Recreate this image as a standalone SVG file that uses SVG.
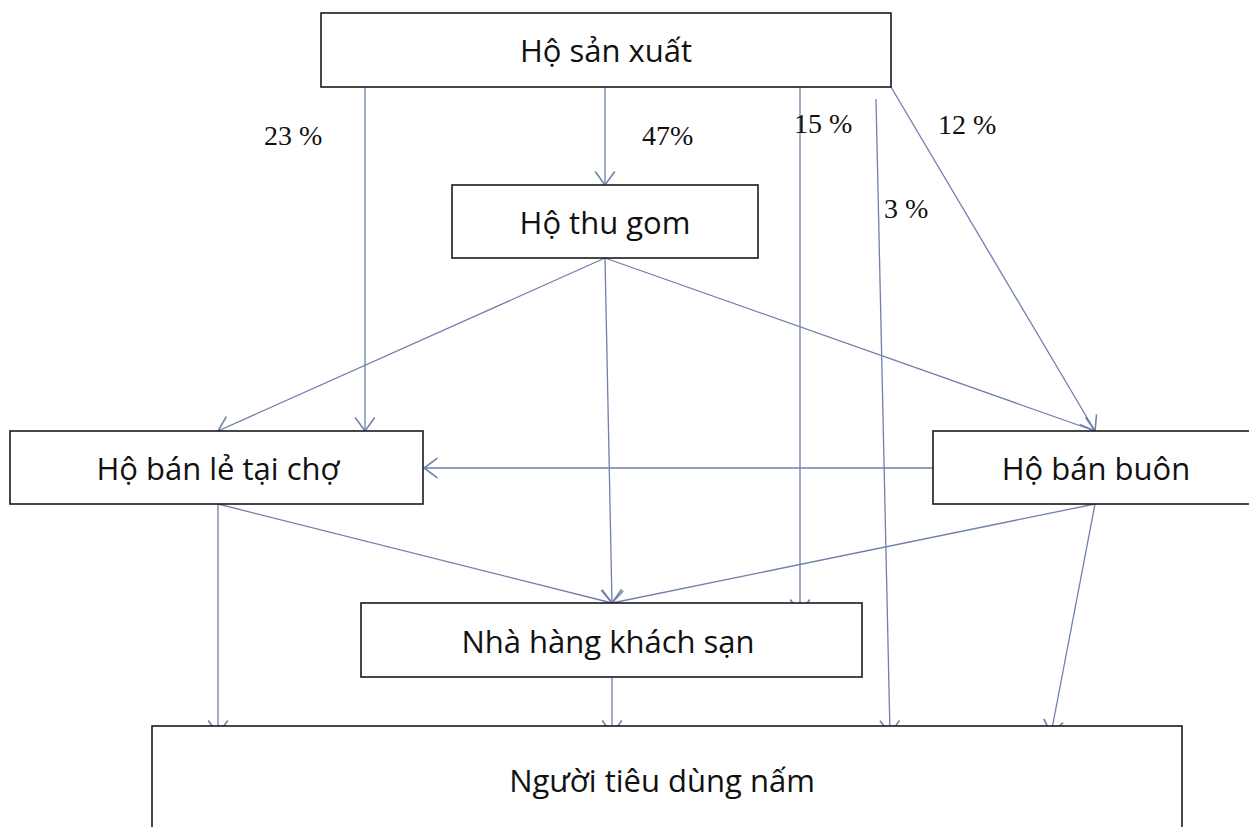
<svg xmlns="http://www.w3.org/2000/svg" width="1249" height="827" viewBox="0 0 1249 827">
  <style>
    .box { fill: #ffffff; stroke: #1a1a1a; stroke-width: 1.6; }
    .lbl { font-family: "Open Sans", "Noto Sans", sans-serif; font-size: 31px; fill: #111111; text-anchor: middle; dominant-baseline: central; }
    .pct { font-family: "Liberation Serif", "Times New Roman", serif; font-size: 28px; fill: #111111; }
    .edge { fill: none; stroke: #6f7fae; stroke-width: 1.3; marker-end: url(#open); }
  </style>
  <defs>
    <marker id="open" markerUnits="userSpaceOnUse" markerWidth="22" markerHeight="22" viewBox="-12 -9 14 18" refX="0" refY="0" orient="auto">
      <path d="M -11 -8 L 0 0 L -11 8" fill="none" stroke="#6f7fae" stroke-width="1.3"/>
    </marker>
  </defs>
  <rect width="1249" height="827" fill="#ffffff"/>

  <g id="connectors">
    <!-- from Hộ sản xuất -->
    <line class="edge" x1="365" y1="87" x2="365" y2="431"/>
    <line class="edge" x1="605" y1="87" x2="605" y2="185"/>
    <line class="edge" x1="800" y1="87" x2="800" y2="613"/>
    <line class="edge" x1="876" y1="99" x2="890" y2="734"/>
    <line class="edge" x1="891" y1="87" x2="1095" y2="431"/>
    <!-- from Hộ thu gom -->
    <line class="edge" x1="605" y1="258" x2="218" y2="431"/>
    <line class="edge" x1="605" y1="258" x2="612" y2="603"/>
    <line class="edge" x1="605" y1="258" x2="1095" y2="431"/>
    <!-- from Hộ bán buôn -->
    <line class="edge" x1="933" y1="468" x2="424" y2="468"/>
    <line class="edge" x1="1095" y1="504" x2="612" y2="603"/>
    <line class="edge" x1="1095" y1="504" x2="1051" y2="734"/>
    <!-- from Hộ bán lẻ tại chợ -->
    <line class="edge" x1="218" y1="504" x2="612" y2="603"/>
    <line class="edge" x1="218" y1="504" x2="218" y2="734"/>
    <!-- from Nhà hàng khách sạn -->
    <line class="edge" x1="612" y1="677" x2="612" y2="734"/>
  </g>

  <g id="labels">
    <text class="pct" x="264" y="145">23 %</text>
    <text class="pct" x="642" y="145">47%</text>
    <text class="pct" x="794" y="133">15 %</text>
    <text class="pct" x="938" y="134">12 %</text>
    <text class="pct" x="884" y="218">3 %</text>
  </g>

  <g id="ho-san-xuat">
    <rect class="box" x="321" y="13" width="570" height="74"/>
    <text class="lbl" x="606" y="50">Hộ sản xuất</text>
  </g>
  <g id="ho-thu-gom">
    <rect class="box" x="452" y="185" width="306" height="73"/>
    <text class="lbl" x="605" y="222">Hộ thu gom</text>
  </g>
  <g id="ho-ban-le">
    <rect class="box" x="10" y="431" width="413" height="73"/>
    <text class="lbl" x="218" y="468">Hộ bán lẻ tại chợ</text>
  </g>
  <g id="ho-ban-buon">
    <rect class="box" x="933" y="431" width="326" height="73"/>
    <text class="lbl" x="1096" y="468">Hộ bán buôn</text>
  </g>
  <g id="nha-hang">
    <rect class="box" x="361" y="603" width="501" height="74"/>
    <text class="lbl" x="608" y="641">Nhà hàng khách sạn</text>
  </g>
  <g id="nguoi-tieu-dung">
    <rect class="box" x="152" y="726" width="1030" height="120"/>
    <text class="lbl" x="662" y="780">Người tiêu dùng nấm</text>
  </g>
</svg>
